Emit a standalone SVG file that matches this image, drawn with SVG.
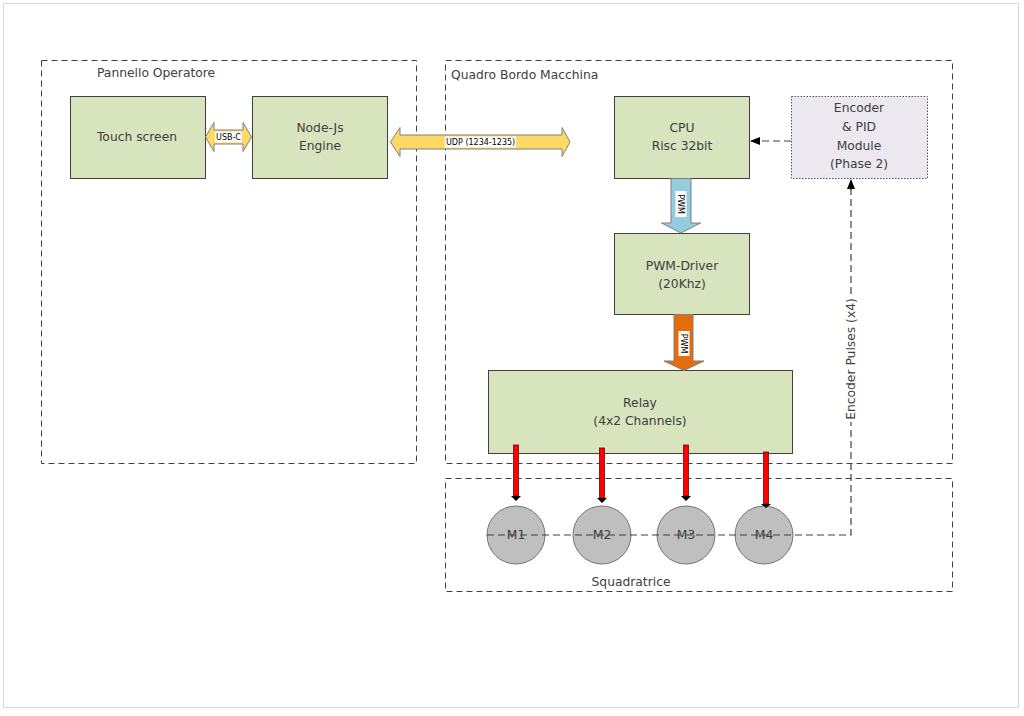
<svg xmlns="http://www.w3.org/2000/svg" width="1024" height="716" viewBox="0 0 1024 716">
<style>
text{font-family:"DejaVu Sans","Liberation Sans",sans-serif;font-size:12.3px;fill:#404040}
.c{text-anchor:middle}
.node{fill:#d7e4bd;stroke:#404040;stroke-width:1}
.group{fill:none;stroke:#404040;stroke-width:1;stroke-dasharray:6 4}
.motor{fill:#bfbfbf;stroke:#737373;stroke-width:1}
.lbl{fill:#fff}
.small{font-size:8px;fill:#000}
.dash{fill:none;stroke:#404040;stroke-width:1.2;stroke-dasharray:7 4}
</style>
<defs>
<marker id="ah" markerWidth="10" markerHeight="8" refX="9" refY="4" orient="auto" markerUnits="userSpaceOnUse">
<path d="M0,0 L10,4 L0,8 Z" fill="#000"/>
</marker>
</defs>
<rect x="3.5" y="3.5" width="1015" height="704" fill="#fff" stroke="#d9d9d9"/>

<g id="pannello-operatore">
<rect class="group" x="41.5" y="60.5" width="375" height="403"/>
<text x="97" y="77">Pannello Operatore</text>
</g>
<g id="quadro-bordo-macchina">
<rect class="group" x="445.5" y="60.5" width="507" height="403"/>
<text x="451" y="79">Quadro Bordo Macchina</text>
</g>
<g id="squadratrice">
<rect class="group" x="445.5" y="478.5" width="507" height="113"/>
<text class="c" x="631" y="586">Squadratrice</text>
</g>

<g id="touch-screen">
<rect class="node" x="70.5" y="96.5" width="135" height="82"/>
<text class="c" x="137" y="141">Touch screen</text>
</g>
<g id="node-js-engine">
<rect class="node" x="252.5" y="96.5" width="135" height="82"/>
<text class="c" x="320" y="132">Node-Js</text>
<text class="c" x="320" y="150">Engine</text>
</g>
<g id="cpu">
<rect class="node" x="614.5" y="96.5" width="135" height="82"/>
<text class="c" x="682" y="132">CPU</text>
<text class="c" x="682" y="150">Risc 32bit</text>
</g>
<g id="encoder-pid">
<rect x="791.5" y="96.5" width="136" height="82" fill="#ebe8f0" stroke="#555" stroke-dasharray="1.5 1.5"/>
<text class="c" x="859" y="112">Encoder</text>
<text class="c" x="859" y="131">&amp; PID</text>
<text class="c" x="859" y="150">Module</text>
<text class="c" x="859" y="168">(Phase 2)</text>
</g>
<g id="pwm-driver">
<rect class="node" x="614.5" y="233.5" width="135" height="81"/>
<text class="c" x="682" y="270">PWM-Driver</text>
<text class="c" x="682" y="288">(20Khz)</text>
</g>
<g id="relay">
<rect class="node" x="488.5" y="370.5" width="304" height="83"/>
<text class="c" x="640" y="407">Relay</text>
<text class="c" x="640" y="425">(4x2 Channels)</text>
</g>
<g id="m1"><circle class="motor" cx="516" cy="535" r="29"/><text class="c" x="516" y="539">M1</text></g>
<g id="m2"><circle class="motor" cx="602" cy="535" r="29"/><text class="c" x="602" y="539">M2</text></g>
<g id="m3"><circle class="motor" cx="686" cy="535" r="29"/><text class="c" x="686" y="539">M3</text></g>
<g id="m4"><circle class="motor" cx="764" cy="535" r="29"/><text class="c" x="764" y="539">M4</text></g>

<g id="connectors">
<!-- USB-C -->
<path d="M205.5,137 L214,122.5 L214,130 L243,130 L243,122.5 L251.5,137 L243,151.5 L243,144 L214,144 L214,151.5 Z" fill="#ffd966" stroke="#7f7f7f"/>
<rect class="lbl" x="215" y="131.5" width="27" height="11"/>
<text class="small c" x="228.5" y="140">USB-C</text>
<!-- UDP -->
<path d="M390.5,142 L400,127.5 L400,135 L562,135 L562,127.5 L570,142 L562,156.5 L562,149 L400,149 L400,156.5 Z" fill="#ffd966" stroke="#7f7f7f"/>
<rect class="lbl" x="445" y="136.5" width="71" height="11"/>
<text class="small" x="446" y="145">UDP (1234-1235)</text>
<!-- CPU -> PWM -->
<path d="M671,178.5 L691,178.5 L691,223 L700.5,223 L681,233 L661.5,223 L671,223 Z" fill="#93cddd" stroke="#7f7f7f"/>
<rect class="lbl" x="675.5" y="191" width="11" height="26"/>
<text class="small c" transform="translate(678,204) rotate(90)">PWM</text>
<!-- PWM -> Relay -->
<path d="M674,314.5 L693,314.5 L693,361 L704,361 L684,370.5 L664,361 L674,361 Z" fill="#e46c0a" stroke="#7f7f7f"/>
<rect class="lbl" x="678.5" y="331" width="11" height="25"/>
<text class="small c" transform="translate(681,343.5) rotate(90)">PWM</text>
<!-- Encoder -> CPU -->
<line class="dash" x1="791" y1="141" x2="751" y2="141" marker-end="url(#ah)"/>
<!-- Encoder pulses -->
<path class="dash" d="M487,535 L851,535 L851,181"/>
<line x1="851" y1="190" x2="851" y2="180" stroke="#404040" marker-end="url(#ah)"/>
<rect class="lbl" x="844" y="296" width="14" height="126"/>
<text class="c" transform="translate(855,359) rotate(-90)">Encoder Pulses (x4)</text>
<!-- Red relay -> motor arrows -->
<g stroke="#7a0000" stroke-width="0.8" fill="#ff0000">
<rect x="513.5" y="445" width="5" height="51"/>
<rect x="599.5" y="448" width="5" height="50"/>
<rect x="683.5" y="445" width="5" height="51"/>
<rect x="763.5" y="452" width="5" height="52"/>
</g>
<path d="M511,496 L521,496 L516,501 Z M597,498 L607,498 L602,503 Z M681,496 L691,496 L686,501 Z M761,504 L771,504 L766,508 Z" fill="#000"/>
</g>
</svg>
